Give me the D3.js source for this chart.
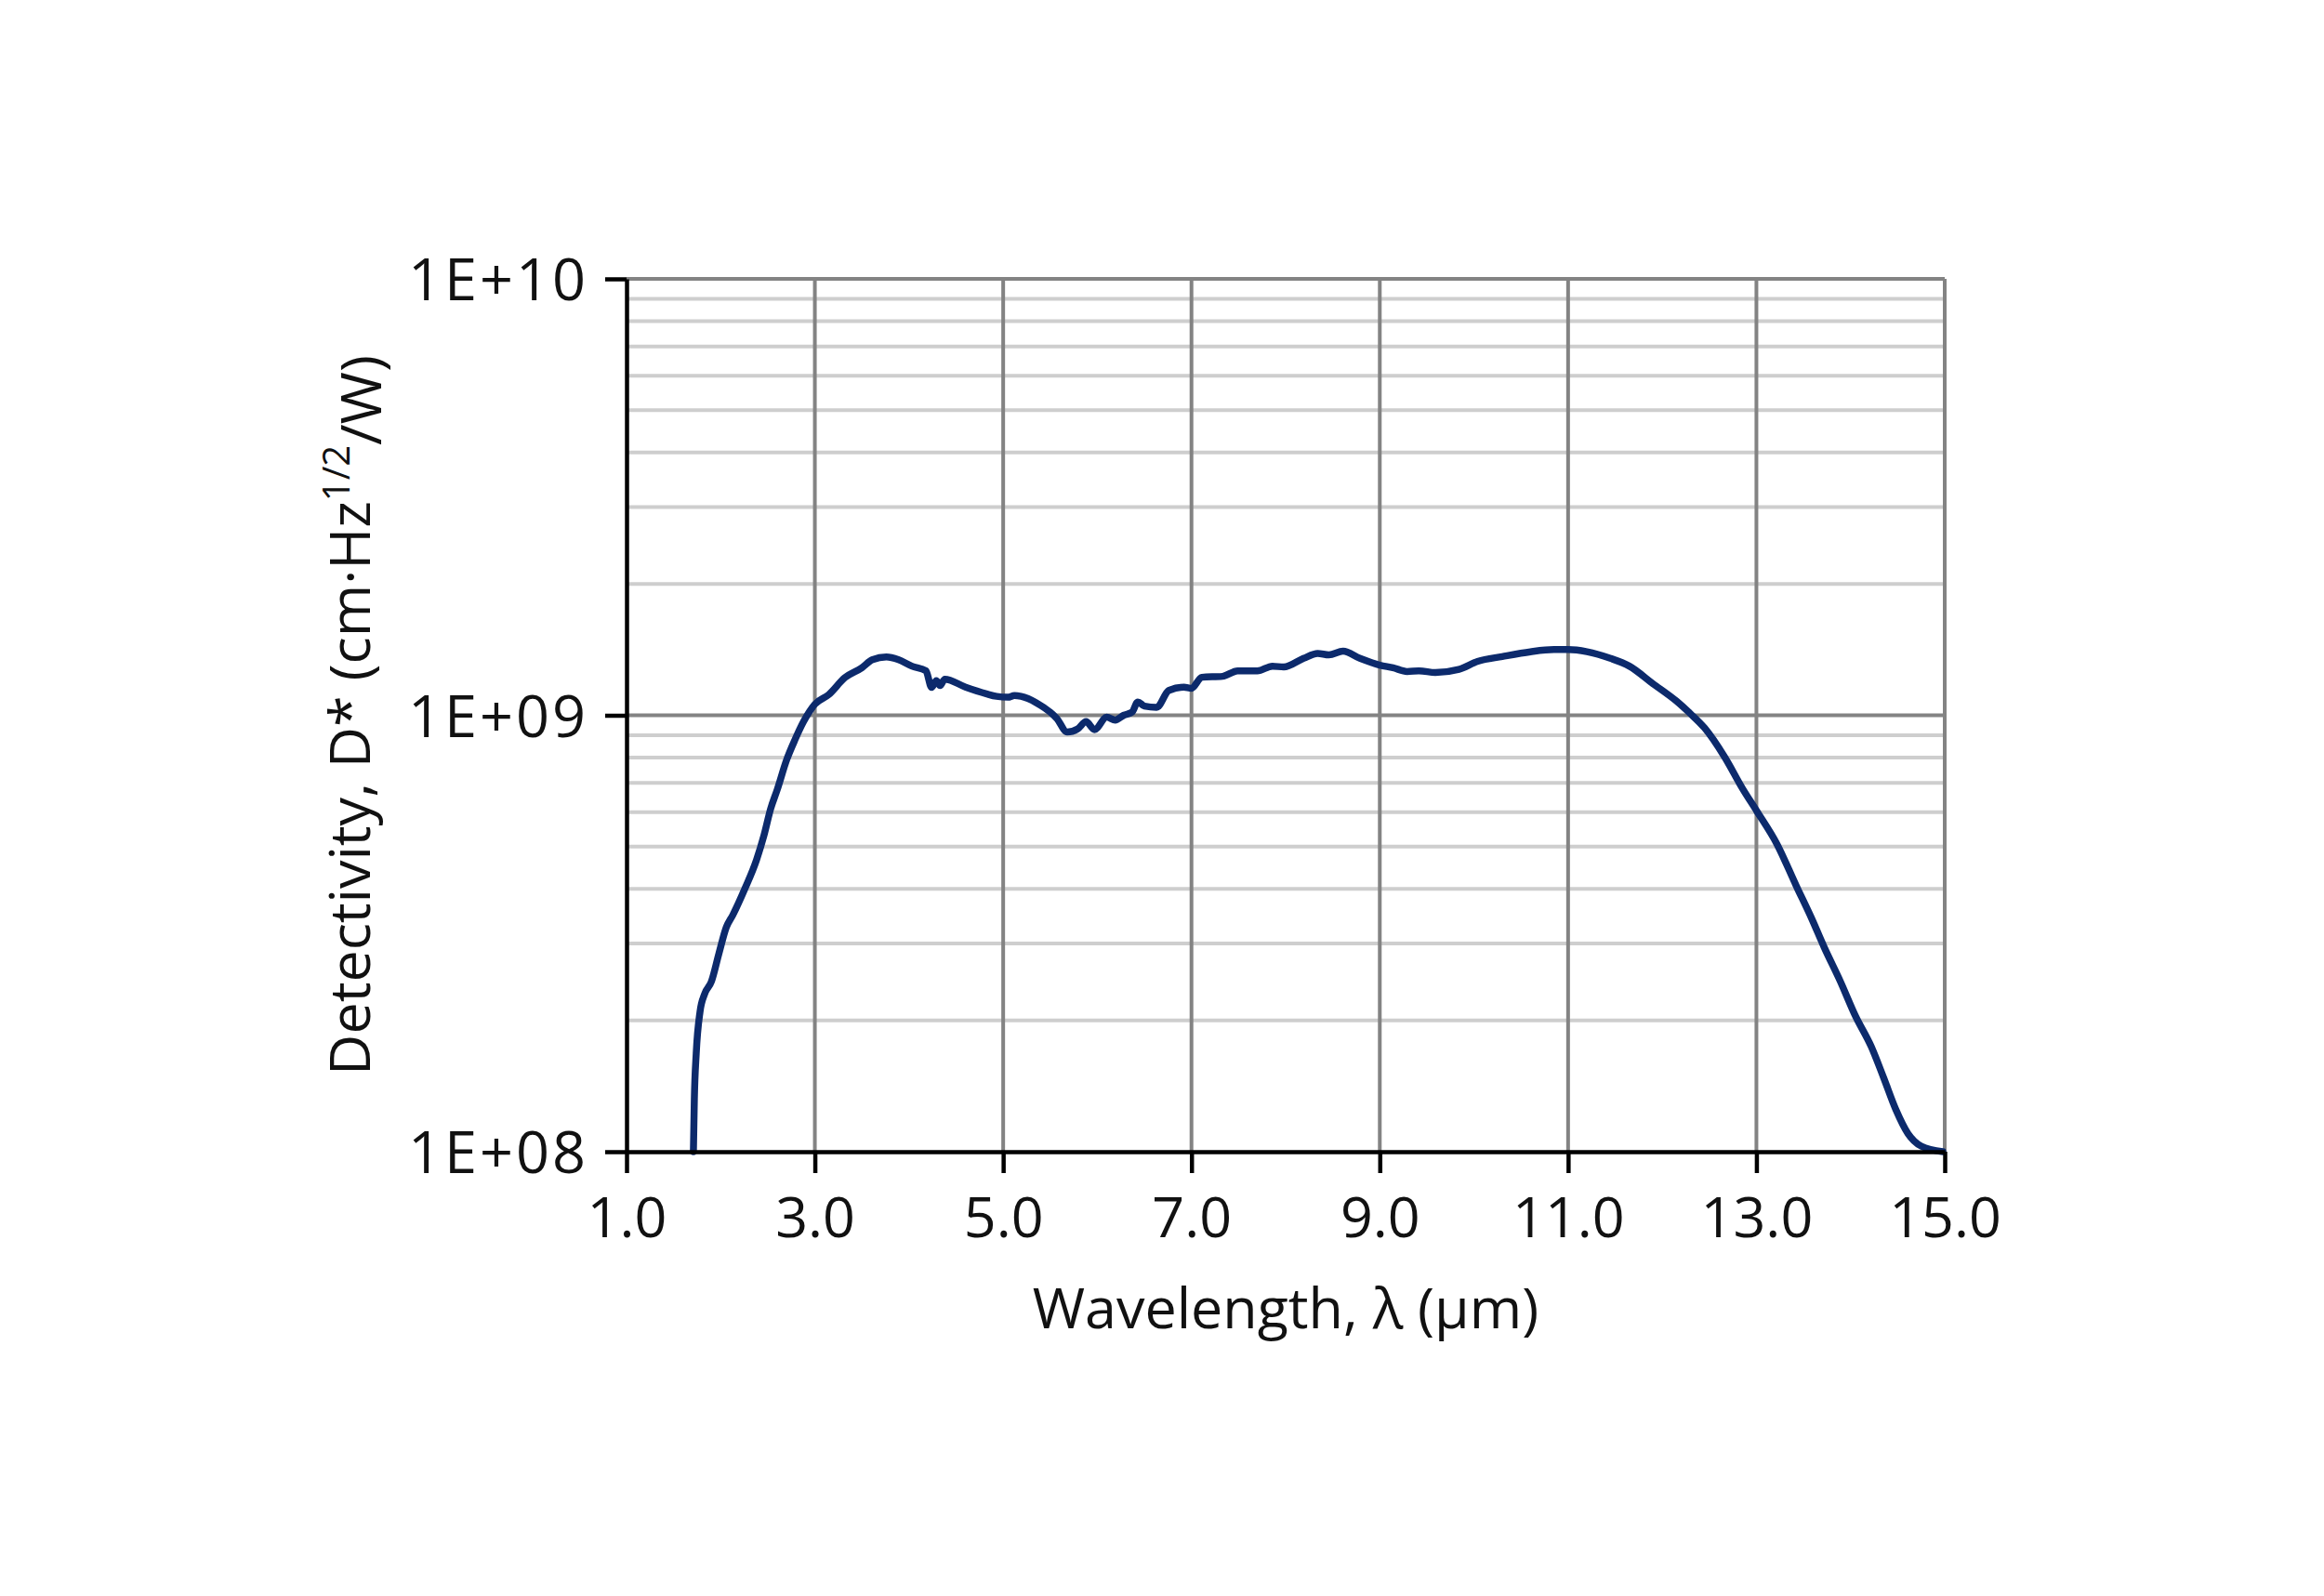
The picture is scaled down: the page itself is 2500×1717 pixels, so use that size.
<!DOCTYPE html>
<html lang="en">
	<head>
		<meta charset="utf-8">
		<title>Detectivity vs wavelength</title>
		<script type="text/javascript" src="https://cdn.jsdelivr.net/npm/d3@7"></script>
		<style>
			body { margin: 0; background: #fff; }
			text { font-family: "Open Sans", sans-serif; fill: #111; }
		</style>
	</head>
	<body>
		<script type="text/javascript">

			// data
			var wavelength = [1.71, 1.72, 1.74, 1.78, 1.83, 1.90, 1.98, 2.06, 2.13, 2.26, 2.38, 2.46, 2.53, 2.60, 2.70, 2.79, 2.88,
				3.00, 3.145, 3.32, 3.50, 3.61, 3.76, 3.89, 4.03, 4.18, 4.24, 4.29, 4.33, 4.38, 4.60, 4.82, 4.93, 5.05, 5.12, 5.19,
				5.35, 5.57, 5.68, 5.79, 5.88, 5.97, 6.10, 6.19, 6.28, 6.37, 6.43, 6.50, 6.63, 6.76, 6.92, 7.00, 7.11, 7.33, 7.49,
				7.70, 7.86, 7.98, 8.19, 8.34, 8.46, 8.61, 8.79, 9.00, 9.14, 9.29, 9.42, 9.59, 9.84, 10.04, 10.30, 10.60, 10.85,
				11.00, 11.20, 11.45, 11.65, 11.90, 12.15, 12.30, 12.45, 12.66, 12.86, 13.00, 13.22, 13.42, 13.59, 13.72, 13.89,
				14.05, 14.22, 14.35, 14.48, 14.61, 14.75, 14.98];
			var detectivity = [1.00e8, 1.32e8, 1.68e8, 2.09e8, 2.30e8, 2.45e8, 2.84e8, 3.27e8, 3.49e8, 4.02e8, 4.66e8, 5.31e8, 6.10e8, 6.75e8, 7.90e8, 8.80e8, 9.67e8,
				1.06e9, 1.114e9, 1.22e9, 1.285e9, 1.34e9, 1.36e9, 1.34e9, 1.296e9, 1.264e9, 1.158e9, 1.20e9, 1.17e9, 1.21e9, 1.16e9, 1.12e9, 1.105e9, 1.10e9, 1.11e9, 1.105e9,
				1.069e9, 0.983e9, 0.915e9, 0.93e9, 0.967e9, 0.927e9, 0.99e9, 0.975e9, 1.0e9, 1.017e9, 1.073e9, 1.05e9, 1.043e9, 1.14e9, 1.16e9, 1.153e9, 1.222e9, 1.228e9, 1.264e9,
				1.264e9, 1.296e9, 1.29e9, 1.35e9, 1.386e9, 1.375e9, 1.402e9, 1.35e9, 1.303e9, 1.285e9, 1.26e9, 1.264e9, 1.253e9, 1.274e9, 1.329e9, 1.363e9, 1.398e9, 1.414e9,
				1.414e9, 1.398e9, 1.35e9, 1.296e9, 1.182e9, 1.078e9, 1.008e9, 0.935e9, 0.804e9, 0.675e9, 0.605e9, 0.506e9, 0.408e9, 0.341e9, 0.294e9, 0.246e9,
				0.205e9, 0.174e9, 0.148e9, 0.125e9, 0.110e9, 0.103e9, 1.0e8];

			var xTicks = [1, 3, 5, 7, 9, 11, 13, 15];
			var yTicks = [1e8, 1e9, 1e10];
			var yTickLabels = ["1E+08", "1E+09", "1E+10"];

			var margin = {top: 300, right: 408, bottom: 478, left: 674},
				w = 2500 - margin.left - margin.right,
				h = 1717 - margin.top - margin.bottom;

			var xScale = d3.scaleLinear().domain([1, 15]).range([0, w]);
			var yScale = d3.scaleLog().domain([1e8, 1e10]).range([h, 0]);

			var svg = d3.select("body")
						.append("svg")
						.attr("width", 2500)
						.attr("height", 1717)
						.append("g")
						.attr("transform", "translate(" + margin.left + "," + margin.top + ")");

			// minor horizontal grid (2..9 per decade)
			var minor = [];
			[1e8, 1e9].forEach(function(d) {
				for (var k = 2; k <= 9; k++) minor.push(d * k);
			});
			svg.selectAll(".minor")
				.data(minor)
				.enter().append("line")
				.attr("x1", 0).attr("x2", w)
				.attr("y1", function(d) { return yScale(d); })
				.attr("y2", function(d) { return yScale(d); })
				.style("stroke", "#cecece")
				.style("stroke-width", 4);

			// major grid
			svg.selectAll(".vgrid")
				.data(xTicks.slice(1))
				.enter().append("line")
				.attr("x1", function(d) { return xScale(d); })
				.attr("x2", function(d) { return xScale(d); })
				.attr("y1", 0).attr("y2", h)
				.style("stroke", "#838383")
				.style("stroke-width", 4);

			svg.selectAll(".hgrid")
				.data(yTicks.slice(1))
				.enter().append("line")
				.attr("x1", 0).attr("x2", w)
				.attr("y1", function(d) { return yScale(d); })
				.attr("y2", function(d) { return yScale(d); })
				.style("stroke", "#838383")
				.style("stroke-width", 4);

			// the curve
			var pts = wavelength.map(function(x, i) { return {x: x, y: detectivity[i]}; });
			var line = d3.line()
						.x(function(d) { return xScale(d.x); })
						.y(function(d) { return yScale(d.y); })
						.curve(d3.curveMonotoneX);

			svg.append("path")
				.datum(pts)
				.attr("d", line)
				.style("fill", "none")
				.style("stroke", "#0c2a6c")
				.style("stroke-width", 7.5)
				.style("stroke-linejoin", "round")
				.style("stroke-linecap", "round");

			// axes
			var xAxis = d3.axisBottom(xScale)
						.tickValues(xTicks)
						.tickSize(23)
						.tickSizeOuter(0)
						.tickPadding(26)
						.tickFormat(d3.format(".1f"));

			var yAxis = d3.axisLeft(yScale)
						.tickValues(yTicks)
						.tickSize(23)
						.tickSizeOuter(0)
						.tickPadding(18)
						.tickFormat(function(d, i) { return yTickLabels[i]; });

			var gx = svg.append("g")
				.attr("transform", "translate(0," + h + ")")
				.call(xAxis);

			var gy = svg.append("g")
				.call(yAxis);

			[gx, gy].forEach(function(g) {
				g.select(".domain").style("stroke", "#000").style("stroke-width", 4.5);
				g.selectAll(".tick line").style("stroke", "#000").style("stroke-width", 4.5);
				g.selectAll(".tick text")
					.style("font-family", "'Open Sans', sans-serif")
					.style("font-size", "61px")
					.style("fill", "#111");
			});
			gy.selectAll(".tick text")
				.attr("dy", "0.36em")
				.style("font-size", "63px")
				.style("letter-spacing", "3px");

			// axis titles
			svg.append("text")
				.attr("x", w / 2)
				.attr("y", h + 190)
				.style("text-anchor", "middle")
				.style("font-size", "61px")
				.text("Wavelength, λ (µm)");

			var yt = svg.append("text")
				.attr("transform", "rotate(-90)")
				.attr("x", -(yScale(1e9)))
				.attr("y", -276)
				.style("text-anchor", "middle")
				.style("font-size", "61px");
			yt.append("tspan").text("Detectivity, D* (cm·Hz");
			yt.append("tspan").attr("dy", "-0.55em").style("font-size", "40px").text("1/2");
			yt.append("tspan").attr("dy", "0.55em").text("/W)");

		</script>
	</body>
</html>
